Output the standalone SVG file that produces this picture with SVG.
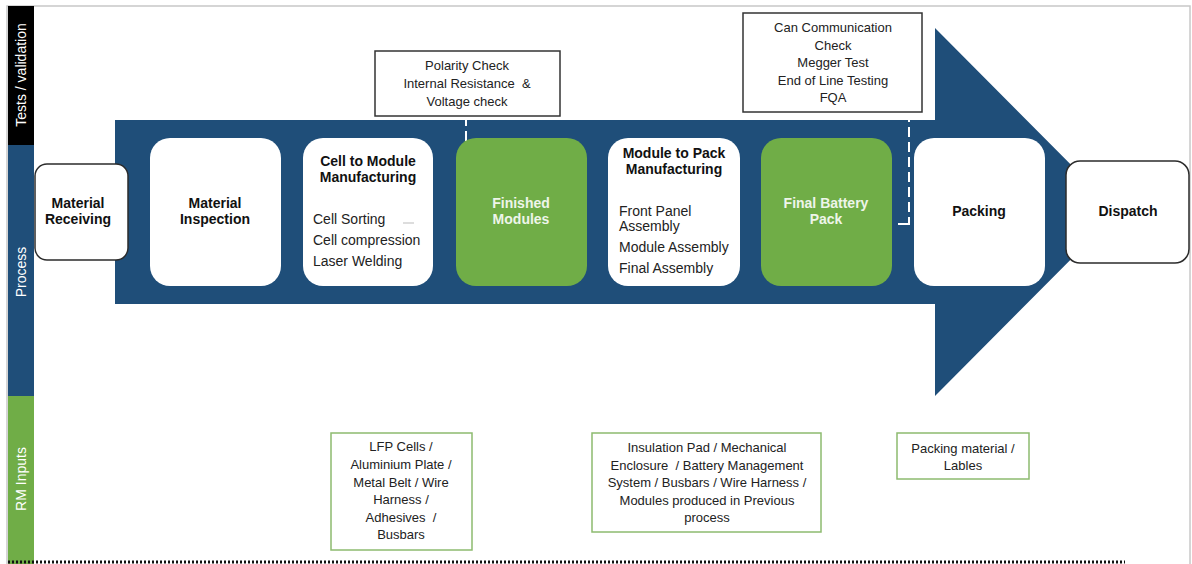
<svg xmlns="http://www.w3.org/2000/svg" width="1192" height="564" viewBox="0 0 1192 564">
<style>
  text { font-family: "Liberation Sans", Arial, sans-serif; white-space: pre; }
  .lane { font-size: 14px; fill: #ffffff; text-anchor: middle; }
  .title { font-size: 14px; font-weight: bold; fill: #111111; text-anchor: middle; }
  .titlew { font-size: 14px; font-weight: bold; fill: #eef5ea; text-anchor: middle; }
  .item { font-size: 14px; fill: #222222; }
  .test { font-size: 13px; fill: #222222; text-anchor: middle; }
  .rm { font-size: 13px; fill: #222222; text-anchor: middle; }
  .card { fill: #ffffff; }
  .green { fill: #70ad47; }
  .term { fill: #ffffff; stroke: #2b2b2b; stroke-width: 1.5; }
  .testbox { fill: #ffffff; stroke: #333333; stroke-width: 1.5; }
  .rmbox { fill: #ffffff; stroke: #8dbb6f; stroke-width: 1.5; }
  .dash { fill: none; stroke: #ffffff; stroke-width: 2; stroke-dasharray: 10 5; }
  .tick { fill: none; stroke: #ffffff; stroke-width: 2; }
</style>

<!-- frame -->
<rect x="7" y="6" width="1183" height="560" fill="#ffffff" stroke="#c8c8c8" stroke-width="1.5"/>

<!-- lanes -->
<g id="lanes">
  <rect x="8" y="6" width="26" height="139" fill="#000000"/>
  <rect x="8" y="145" width="26" height="251" fill="#1f4e79"/>
  <rect x="8" y="396" width="26" height="168" fill="#70ad47"/>
  <text class="lane" transform="translate(26,75) rotate(-90)">Tests / validation</text>
  <text class="lane" transform="translate(26,272) rotate(-90)">Process</text>
  <text class="lane" transform="translate(26,479) rotate(-90)">RM Inputs</text>
</g>

<!-- bottom dotted line -->
<line x1="8" y1="562" x2="1125" y2="562" stroke="#111111" stroke-width="3" stroke-dasharray="2 2"/>

<!-- big arrow -->
<g id="arrow">
  <polygon points="115,120 935,120 935,28 1118,212 935,396 935,304 115,304" fill="#1f4e79"/>
</g>

<!-- connectors -->
<g id="connectors">
  <line class="dash" x1="466" y1="116" x2="466" y2="221"/>
  <line class="tick" x1="457" y1="221" x2="472" y2="221"/>
  <line class="dash" x1="909" y1="112" x2="909" y2="224"/>
  <line class="tick" x1="898" y1="224" x2="910" y2="224"/>
</g>

<g id="material-receiving">
  <rect class="term" x="35" y="164" width="93" height="96" rx="12"/>
  <text class="title" x="78" y="208">Material</text>
  <text class="title" x="78" y="224">Receiving</text>
</g>

<g id="material-inspection">
  <rect class="card" x="150" y="138" width="131" height="148" rx="20"/>
  <text class="title" x="215" y="208">Material</text>
  <text class="title" x="215" y="224">Inspection</text>
</g>

<g id="cell-to-module">
  <rect class="card" x="303" y="138" width="130" height="148" rx="20"/>
  <text class="title" x="368" y="166">Cell to Module</text>
  <text class="title" x="368" y="182">Manufacturing</text>
  <text class="item" x="313" y="224">Cell Sorting</text>
  <line x1="403" y1="223" x2="414" y2="223" stroke="#bbbbbb" stroke-width="1"/>
  <text class="item" x="313" y="245">Cell compression</text>
  <text class="item" x="313" y="266">Laser Welding</text>
</g>

<g id="finished-modules">
  <rect class="green" x="456" y="138" width="131" height="148" rx="20"/>
  <text class="titlew" x="521" y="208">Finished</text>
  <text class="titlew" x="521" y="224">Modules</text>
</g>

<g id="module-to-pack">
  <rect class="card" x="608" y="138" width="132" height="148" rx="20"/>
  <text class="title" x="674" y="158">Module to Pack</text>
  <text class="title" x="674" y="174">Manufacturing</text>
  <text class="item" x="619" y="216">Front Panel</text>
  <text class="item" x="619" y="231">Assembly</text>
  <text class="item" x="619" y="252">Module Assembly</text>
  <text class="item" x="619" y="273">Final Assembly</text>
</g>

<g id="final-battery-pack">
  <rect class="green" x="761" y="138" width="131" height="148" rx="20"/>
  <text class="titlew" x="826" y="208">Final Battery</text>
  <text class="titlew" x="826" y="224">Pack</text>
</g>

<g id="packing">
  <rect class="card" x="914" y="138" width="131" height="148" rx="20"/>
  <text class="title" x="979" y="216">Packing</text>
</g>

<g id="dispatch">
  <rect class="term" x="1066" y="161" width="123" height="102" rx="14"/>
  <text class="title" x="1128" y="216">Dispatch</text>
</g>

<g id="test-polarity">
  <rect class="testbox" x="375" y="51" width="185" height="65"/>
  <text class="test" x="467" y="70">Polarity Check</text>
  <text class="test" x="467" y="88">Internal Resistance  &amp;</text>
  <text class="test" x="467" y="106">Voltage check</text>
</g>

<g id="test-eol">
  <rect class="testbox" x="743" y="13" width="179" height="99"/>
  <text class="test" x="833" y="32">Can Communication</text>
  <text class="test" x="833" y="50">Check</text>
  <text class="test" x="833" y="67">Megger Test</text>
  <text class="test" x="833" y="85">End of Line Testing</text>
  <text class="test" x="833" y="102">FQA</text>
</g>

<g id="rm-cell">
  <rect class="rmbox" x="331" y="433" width="141" height="117"/>
  <text class="rm" x="401" y="451">LFP Cells /</text>
  <text class="rm" x="401" y="469">Aluminium Plate /</text>
  <text class="rm" x="401" y="487">Metal Belt / Wire</text>
  <text class="rm" x="401" y="504">Harness /</text>
  <text class="rm" x="401" y="522">Adhesives  /</text>
  <text class="rm" x="401" y="539">Busbars</text>
</g>

<g id="rm-pack">
  <rect class="rmbox" x="592" y="433" width="229" height="99"/>
  <text class="rm" x="707" y="452">Insulation Pad / Mechanical</text>
  <text class="rm" x="707" y="470">Enclosure  / Battery Management</text>
  <text class="rm" x="707" y="487">System / Busbars / Wire Harness /</text>
  <text class="rm" x="707" y="505">Modules produced in Previous</text>
  <text class="rm" x="707" y="522">process</text>
</g>

<g id="rm-packing">
  <rect class="rmbox" x="897" y="433" width="132" height="46"/>
  <text class="rm" x="963" y="453">Packing material /</text>
  <text class="rm" x="963" y="470">Lables</text>
</g>
</svg>
